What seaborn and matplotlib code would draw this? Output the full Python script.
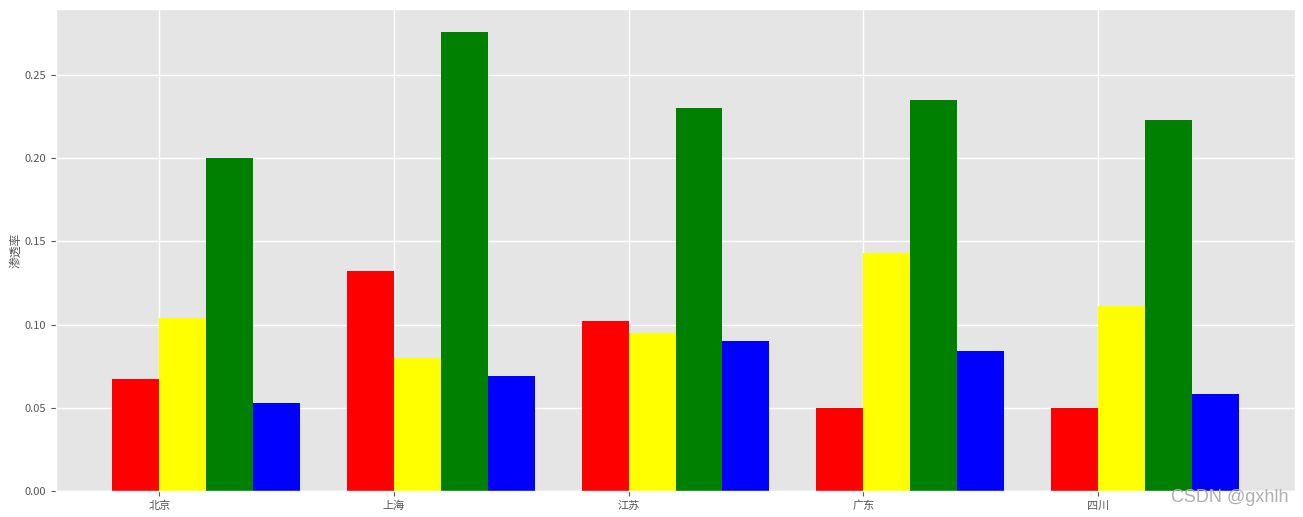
import pandas as pd
import matplotlib.pyplot as plt
import seaborn as sns
import numpy as np

# 数据
provinces = ['北京', '上海', '江苏', '广东', '四川']
series_names = ['a', 'b', 'c', 'd']
series_colors = ['red', 'yellow', 'green', 'blue']
vals_a = [0.067, 0.132, 0.102, 0.050, 0.050]
vals_b = [0.104, 0.080, 0.095, 0.143, 0.111]
vals_c = [0.200, 0.276, 0.230, 0.235, 0.223]
vals_d = [0.053, 0.069, 0.090, 0.084, 0.058]

df = pd.DataFrame({
    'province': provinces * 4,
    'series': np.repeat(series_names, len(provinces)),
    'rate': vals_a + vals_b + vals_c + vals_d,
})

plt.style.use('ggplot')
plt.rcParams['font.family'] = ['Noto Sans CJK SC', 'DejaVu Sans']
plt.rcParams['axes.unicode_minus'] = False

fig = plt.figure(figsize=(13.03, 5.17), dpi=100)
ax = fig.add_axes([0.043, 0.0503, 0.9509, 0.9323])

sns.barplot(data=df, x='province', y='rate', hue='series', palette=series_colors,
            width=0.8, saturation=1, errorbar=None, legend=False, ax=ax)

# 刻度放在第一、二根柱子之间
pos = np.arange(len(provinces))
ax.set_xticks(pos - 0.2)
ax.set_xticklabels(provinces)
ax.set_xlim(-0.64, 4.64)
ax.set_ylim(0, 0.2896)
ax.set_yticks([0, 0.05, 0.10, 0.15, 0.20, 0.25])
ax.set_yticklabels(['0.00', '0.05', '0.10', '0.15', '0.20', '0.25'])
ax.tick_params(labelsize=8, colors='#555555')
ax.set_xlabel('')
ax.set_ylabel('渗透率', fontsize=8.5, color='#555555', labelpad=2)
ax.grid(True, color='white', linewidth=1)

fig.text(0.989, 0.022, 'CSDN @gxhlh', ha='right', va='bottom', fontsize=13,
         color='#b0b0b0', family=['Liberation Sans', 'DejaVu Sans'])

plt.savefig('out.png', dpi=100)
